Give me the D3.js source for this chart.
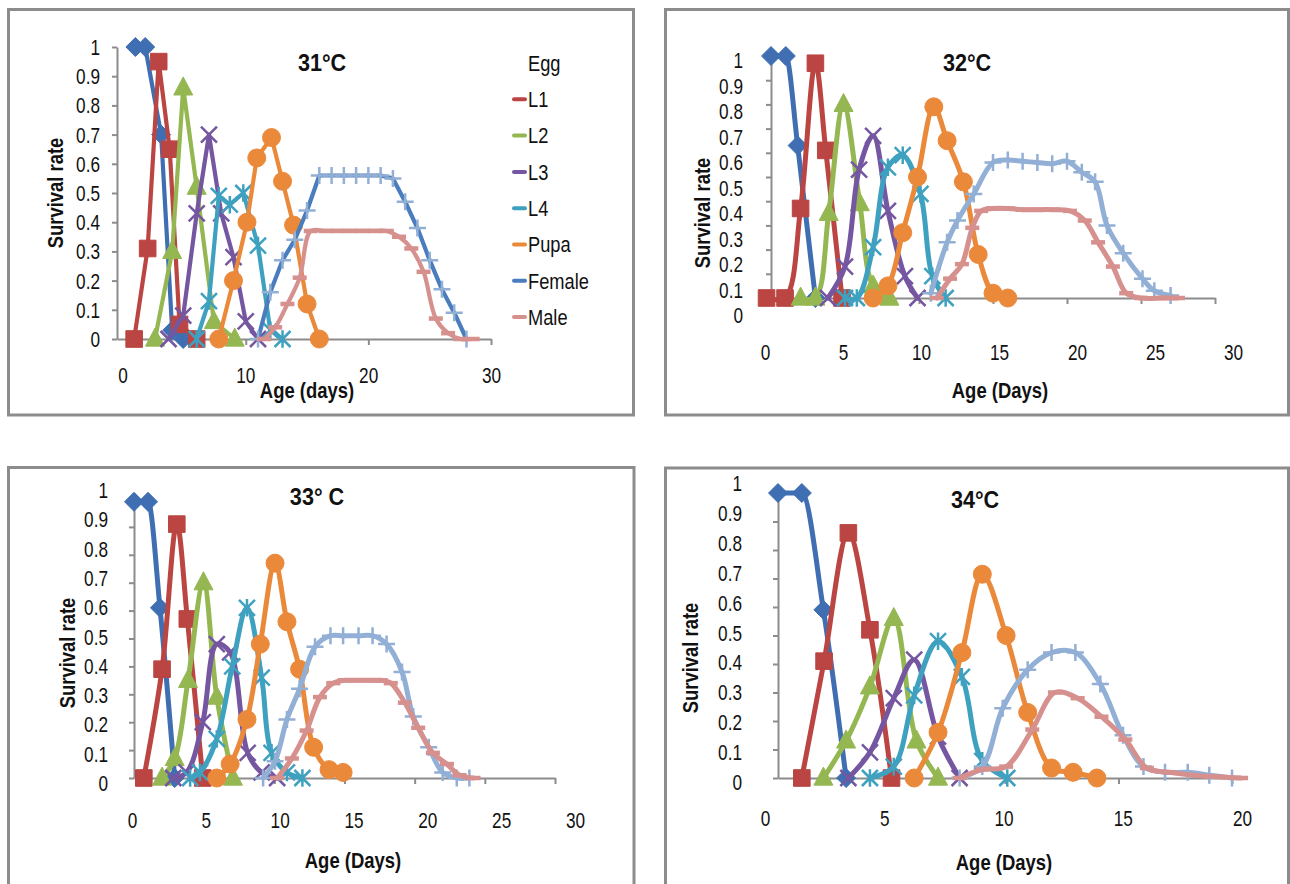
<!DOCTYPE html>
<html>
<head>
<meta charset="utf-8">
<script src="https://cdn.jsdelivr.net/npm/d3@7"></script>
<style>
  html, body { margin: 0; padding: 0; background: #ffffff; }
  svg { display: block; }
  text { font-family: "Liberation Sans", Arial, Helvetica, sans-serif; fill: #111111; }
</style>
</head>
<body>
<svg id="chart" width="1290" height="884"></svg>
<script>
// ---- Survival rate by age (days), one panel per rearing temperature ----
// Each point is [age in days, survival rate].

// 31 °C
const egg31 = [[1,1],[1.8,1],[3.1,0.7],[4,0.03],[4.9,0]];
const l1_31 = [[0.9,0],[2,0.31],[2.9,0.95],[3.8,0.65],[4.6,0.05],[6,0]];
const l2_31 = [[2.6,0],[4,0.3],[4.9,0.86],[6,0.52],[7.4,0.06],[9.1,0]];
const l3_31 = [[3.7,0],[4.9,0.08],[6,0.43],[7,0.7],[8,0.43],[9,0.28],[10,0.06],[11,0]];
const l4_31 = [[6,0],[7,0.13],[7.8,0.49],[8.7,0.46],[9.8,0.5],[11,0.32],[12,0.03],[13,0]];
const pupa31 = [[7.8,0],[9,0.2],[10.1,0.4],[10.9,0.62],[12.1,0.69],[13,0.54],[13.9,0.39],[15,0.12],[16,0]];
const female31 = [[11,0],[12,0.16],[13,0.27],[14,0.34],[15,0.44],[16,0.56],[17,0.56],[18,0.56],[19,0.56],[20,0.56],[21,0.56],[22,0.55],[23,0.47],[24,0.38],[25,0.27],[26,0.17],[27,0.09],[28,0]];
const male31 = [[11.5,0],[12.4,0.04],[13.4,0.12],[14.4,0.21],[15.3,0.37],[16.5,0.37],[17.5,0.37],[18.5,0.37],[19.5,0.37],[20.5,0.37],[21.5,0.37],[22.5,0.35],[23.5,0.31],[24.5,0.23],[25.5,0.07],[26.5,0.02],[27.5,0],[28.5,0]];

// 32 °C
const egg32 = [[0,1],[1,1],[1.8,0.63],[3,0]];
const l1_32 = [[-0.3,0],[0.95,0],[2,0.37],[3,0.97],[3.7,0.61],[4.8,0]];
const l2_32 = [[2,0],[3,0],[3.9,0.35],[4.9,0.8],[6,0.39],[6.9,0.05],[8,0]];
const l3_32 = [[3.85,0],[5,0.13],[5.95,0.53],[6.9,0.67],[7.9,0.36],[9.05,0.09],[9.9,0]];
const l4_32 = [[5,0],[5.8,0],[6.9,0.21],[7.9,0.54],[8.9,0.59],[10.1,0.43],[10.9,0.09],[11.8,0]];
const pupa32 = [[6.9,0],[7.9,0.05],[8.9,0.27],[9.9,0.5],[11,0.79],[11.9,0.65],[13,0.48],[14,0.18],[15,0.02],[16,0]];
const female32 = [[10.8,0.02],[11.9,0.23],[12.6,0.32],[13.7,0.43],[15,0.56],[16,0.57],[17,0.565],[18,0.56],[19,0.555],[20,0.565],[21,0.52],[21.9,0.48],[22.7,0.3],[23.8,0.185],[25.1,0.08],[25.9,0.03],[27,0.01]];
const male32 = [[11.2,0],[12.1,0.08],[12.9,0.14],[13.6,0.29],[14.2,0.36],[15,0.37],[16,0.37],[17,0.365],[18,0.365],[19,0.365],[20.2,0.36],[21.2,0.32],[22.1,0.23],[23.1,0.13],[24,0.02],[25,0],[26.5,0],[27.5,0]];

// 33 °C
const egg33 = [[0,0.99],[1,0.99],[1.85,0.61],[2.9,0]];
const l1_33 = [[0.7,0],[2,0.39],[3.05,0.91],[3.8,0.57],[4.9,0]];
const l2_33 = [[2,0],[2.9,0.07],[3.85,0.35],[4.95,0.7],[5.9,0.29],[7.05,0]];
const l3_33 = [[2.8,0],[3.75,0.02],[4.9,0.2],[5.9,0.48],[6.85,0.45],[8.1,0.09],[9.1,0.02],[10.2,0]];
const l4_33 = [[4,0],[4.7,0.02],[5.9,0.14],[7,0.4],[8.05,0.61],[9.1,0.36],[9.8,0.09],[10.9,0.02],[12,0]];
const pupa33 = [[5.9,0],[6.85,0.05],[8.05,0.21],[9,0.48],[10.05,0.77],[10.9,0.56],[11.8,0.39],[12.8,0.11],[13.9,0.03],[14.9,0.02]];
const female33 = [[9.2,0],[10.05,0.06],[10.9,0.21],[11.8,0.32],[12.9,0.47],[14,0.51],[14.9,0.51],[16,0.51],[17,0.51],[18,0.48],[19.1,0.38],[19.9,0.22],[21,0.11],[22,0.02],[23,0],[23.9,0]];
const male33 = [[10.2,0],[11.25,0.07],[12.3,0.17],[13.25,0.29],[14.2,0.34],[15,0.35],[16,0.35],[17,0.35],[17.6,0.35],[18.3,0.34],[19.3,0.27],[20.25,0.18],[21.3,0.09],[22.3,0.05],[23.2,0.01],[24.2,0]];

// 34 °C
const egg34 = [[0,1],[1.05,1],[2,0.59],[3,0]];
const l1_34 = [[1.05,0],[2.03,0.41],[3.1,0.86],[4.05,0.52],[5,0]];
const l2_34 = [[2,0],[3,0.13],[4.05,0.32],[5.1,0.56],[6.1,0.13],[7.05,0]];
const l3_34 = [[3.1,0],[4.05,0.09],[5.1,0.28],[6,0.415],[7.05,0.145],[8,0]];
const l4_34 = [[4.05,0],[5.1,0.04],[6,0.29],[7.05,0.48],[8.1,0.355],[9,0.06],[10.1,0]];
const pupa34 = [[6,0],[7.05,0.16],[8.1,0.44],[9,0.715],[10.05,0.5],[11,0.23],[12.05,0.035],[13,0.02],[14.05,0]];
const female34 = [[8,0],[9,0.04],[9.9,0.245],[11,0.38],[12.05,0.44],[13.1,0.44],[14.2,0.33],[15.2,0.15],[16.1,0.04],[17.05,0.02],[18.05,0.02],[19,0.01],[20,0]];
const male34 = [[8,0],[9,0.03],[10.05,0.04],[11.2,0.17],[12.2,0.3],[13.2,0.28],[14.25,0.215],[15.3,0.135],[16.25,0.035],[17.25,0.02],[18.3,0.01],[19.2,0.005],[20.4,0]];

// Series names and axis ticks
const seriesNames = ["Egg", "L1", "L2", "L3", "L4", "Pupa", "Female", "Male"];
const yTickValues = [0, 0.1, 0.2, 0.3, 0.4, 0.5, 0.6, 0.7, 0.8, 0.9, 1];
const yTickLabels = ["0", "0.1", "0.2", "0.3", "0.4", "0.5", "0.6", "0.7", "0.8", "0.9", "1"];
const xTicks30 = [0, 5, 10, 15, 20, 25, 30];
const xTicks31 = [0, 10, 20, 30];
const xTicks20 = [0, 5, 10, 15, 20];

// ---- Styles ----
const seriesStyle = [
  { color: "#3f6fb2", marker: "diamond" },
  { color: "#ba4542", marker: "square" },
  { color: "#94b752", marker: "triangle" },
  { color: "#7556a0", marker: "x" },
  { color: "#3fa1c0", marker: "star" },
  { color: "#eb893b", marker: "circle" },
  { color: "#92afd6", marker: "plus" },
  { color: "#d6908e", marker: "dash" }
];
const axisGrey = "#8c8c8c";
const tickFont = { size: 21.5, sx: 0.8 };

// curve types: "L" straight segments, "M" monotone smoothing, "C" Catmull-Rom smoothing
const curveOf = { L: d3.curveLinear, M: d3.curveMonotoneX, C: d3.curveCatmullRom.alpha(0.5) };

// ---- Panel layout ----
const panels = [
  {
    title: "31°C", xTitle: "Age (days)",
    series: [egg31, l1_31, l2_31, l3_31, l4_31, pupa31, female31, male31],
    frame: [8.5, 9.5, 633.5, 415],
    xDomain: [-0.5, 30], xRange: [117, 491],
    xLabelDomain: [0, 30], xLabelRange: [122.5, 491], xLabelY: 375,
    xTickMarks: [10, 20, 30], xTickLabels: xTicks31,
    yRange: [339, 47], yLabelRange: [339, 47], yLabelRight: 100,
    titlePos: [322, 63], xTitlePos: [307, 390], yTitlePos: [55, 193],
    lineWidth: 4.2, femaleLine: "#4a7dbe",
    curves: ["L", "L", "L", "L", "L", "L", "L", "C"],
    legend: true
  },
  {
    title: "32°C", xTitle: "Age (Days)",
    series: [egg32, l1_32, l2_32, l3_32, l4_32, pupa32, female32, male32],
    frame: [665.5, 9.5, 1288.5, 415],
    xDomain: [0, 30], xRange: [771, 1215],
    xLabelDomain: [0, 30], xLabelRange: [765, 1233], xLabelY: 352,
    xTickMarks: [5, 10, 15, 20, 25, 30], xTickLabels: xTicks30,
    yRange: [298, 56], yLabelRange: [315, 60], yLabelRight: 743,
    titlePos: [967, 63], xTitlePos: [1000, 390], yTitlePos: [702, 213],
    lineWidth: 5, femaleLine: "#92afd6",
    curves: ["M", "C", "C", "C", "C", "C", "C", "C"],
    legend: false
  },
  {
    title: "33° C", xTitle: "Age (Days)",
    series: [egg33, l1_33, l2_33, l3_33, l4_33, pupa33, female33, male33],
    frame: [8.5, 467.5, 634, 900],
    xDomain: [0, 30], xRange: [134, 555],
    xLabelDomain: [0, 30], xLabelRange: [132, 575], xLabelY: 820,
    xTickMarks: [5, 10, 15, 20, 25, 30], xTickLabels: xTicks30,
    yRange: [778, 499], yLabelRange: [783, 490], yLabelRight: 108,
    titlePos: [317, 497], xTitlePos: [353, 860], yTitlePos: [67, 653],
    lineWidth: 5, femaleLine: "#92afd6",
    curves: ["M", "C", "C", "C", "C", "C", "C", "C"],
    legend: false
  },
  {
    title: "34°C", xTitle: "Age (Days)",
    series: [egg34, l1_34, l2_34, l3_34, l4_34, pupa34, female34, male34],
    frame: [665.5, 468, 1288.5, 900],
    xDomain: [0, 20], xRange: [778, 1232],
    xLabelDomain: [0, 20], xLabelRange: [765, 1242], xLabelY: 818,
    xTickMarks: [5, 10, 15, 20], xTickLabels: xTicks20,
    yRange: [778, 493], yLabelRange: [782, 483], yLabelRight: 742,
    titlePos: [975, 500], xTitlePos: [1004, 862], yTitlePos: [690, 658],
    lineWidth: 5, femaleLine: "#92afd6",
    curves: ["M", "C", "C", "C", "C", "C", "C", "C"],
    legend: false
  }
];

const legendLayout = { swatchX1: 514, swatchX2: 525, textX: 528, y0: 63, step: 36.3 };

// ---- Marker shapes (centred on the data point) ----
const markerSize = { diamond: 9.5, square: 8.3, triangle: 9.5, circle: 9, x: 8, star: 8, plus: 8.5, dash: 7 };
function markerPath(type) {
  const s = markerSize[type];
  switch (type) {
    case "diamond": return `M0,${-s}L${s},0L0,${s}L${-s},0Z`;
    case "square": return `M${-s},${-s}H${s}V${s}H${-s}Z`;
    case "triangle": return `M0,${-s * 1.15}L${s},${s * 0.75}L${-s},${s * 0.75}Z`;
    case "circle": return `M${s},0A${s},${s} 0 1,1 ${-s},0A${s},${s} 0 1,1 ${s},0Z`;
    case "x": return `M${-s},${-s}L${s},${s}M${-s},${s}L${s},${-s}`;
    case "star": return `M${-s},${-s}L${s},${s}M${-s},${s}L${s},${-s}M0,${-s * 1.1}L0,${s * 1.1}`;
    case "plus": return `M${-s},0H${s}M0,${-s}V${s}`;
    case "dash": return `M${-s},0H${s}`;
  }
}
const filledMarkers = new Set(["diamond", "square", "triangle", "circle"]);

const svg = d3.select("#chart");

// text helper: horizontally condensed text placed at (x, y)
function squeezedText(g, str, x, y, opts) {
  return g.append("text")
    .attr("transform", `translate(${x},${y})${opts.rotate ? " rotate(-90)" : ""} scale(${opts.sx},1)`)
    .attr("text-anchor", opts.anchor || "middle")
    .attr("dy", "0.35em")
    .style("font-size", opts.size + "px")
    .style("font-weight", opts.bold ? "bold" : "normal")
    .text(str);
}

panels.forEach(p => {
  const g = svg.append("g");

  // panel frame
  g.append("rect")
    .attr("x", p.frame[0]).attr("y", p.frame[1])
    .attr("width", p.frame[2] - p.frame[0]).attr("height", p.frame[3] - p.frame[1])
    .attr("fill", "none").attr("stroke", axisGrey).attr("stroke-width", 3);

  const x = d3.scaleLinear().domain(p.xDomain).range(p.xRange);
  const y = d3.scaleLinear().domain([0, 1]).range(p.yRange);
  const xLab = d3.scaleLinear().domain(p.xLabelDomain).range(p.xLabelRange);
  const yLab = d3.scaleLinear().domain([0, 1]).range(p.yLabelRange);

  // axis lines and tick marks
  g.append("g")
    .attr("transform", `translate(${p.xRange[0]},0)`)
    .call(d3.axisLeft(y).tickValues(yTickValues).tickSize(5).tickSizeOuter(0).tickFormat(""))
    .call(s => s.selectAll("path,line").attr("stroke", axisGrey).attr("stroke-width", 2));
  g.append("g")
    .attr("transform", `translate(0,${y(0)})`)
    .call(d3.axisBottom(x).tickValues(p.xTickMarks).tickSize(6).tickSizeOuter(0).tickFormat(""))
    .call(s => s.selectAll("path,line").attr("stroke", axisGrey).attr("stroke-width", 2));

  // tick labels
  g.append("g")
    .attr("transform", `translate(${p.yLabelRight},0)`)
    .call(d3.axisLeft(yLab).tickValues(yTickValues).tickSize(0).tickPadding(0)
      .tickFormat((d, i) => yTickLabels[i]))
    .call(s => s.select(".domain").remove())
    .call(s => s.selectAll("text")
      .attr("x", 0).attr("dy", "0.35em")
      .attr("transform", `scale(${tickFont.sx},1)`)
      .style("font-size", tickFont.size + "px").attr("fill", "#111"));
  g.append("g")
    .attr("transform", `translate(0,${p.xLabelY})`)
    .call(d3.axisBottom(xLab).tickValues(p.xTickLabels).tickSize(0).tickPadding(0)
      .tickFormat(d3.format("d")))
    .call(s => s.select(".domain").remove())
    .call(s => s.selectAll("text")
      .attr("y", 0).attr("dy", "0.35em")
      .attr("transform", `scale(${tickFont.sx},1)`)
      .style("font-size", tickFont.size + "px").attr("fill", "#111"));

  // titles
  squeezedText(g, p.title, p.titlePos[0], p.titlePos[1], { sx: 0.9, size: 24, bold: true });
  squeezedText(g, p.xTitle, p.xTitlePos[0], p.xTitlePos[1], { sx: 0.84, size: 22, bold: true });
  squeezedText(g, "Survival rate", p.yTitlePos[0], p.yTitlePos[1], { sx: 0.82, size: 22.5, bold: true, rotate: true });

  // series: line then markers, in series order
  p.series.forEach((data, i) => {
    const st = seriesStyle[i];
    const lineColor = i === 6 ? p.femaleLine : st.color;
    const line = d3.line()
      .x(d => x(d[0])).y(d => y(d[1]))
      .curve(curveOf[p.curves[i]]);
    const sg = g.append("g").attr("class", "series-" + seriesNames[i]);
    sg.append("path")
      .datum(data)
      .attr("d", line)
      .attr("fill", "none")
      .attr("stroke", lineColor)
      .attr("stroke-width", p.lineWidth)
      .attr("stroke-linejoin", "round")
      .attr("stroke-linecap", "round");
    const filled = filledMarkers.has(st.marker);
    sg.selectAll("path.mk")
      .data(data)
      .join("path")
      .attr("class", "mk")
      .attr("transform", d => `translate(${x(d[0])},${y(d[1])})`)
      .attr("d", markerPath(st.marker))
      .attr("fill", filled ? st.color : "none")
      .attr("stroke", st.color)
      .attr("stroke-width", filled ? 1 : (st.marker === "dash" ? 4.5 : 2.5));
  });

  // legend
  if (p.legend) {
    const lg = g.append("g");
    seriesNames.forEach((name, i) => {
      const yy = legendLayout.y0 + i * legendLayout.step;
      if (i > 0) {
        lg.append("line")
          .attr("x1", legendLayout.swatchX1).attr("x2", legendLayout.swatchX2)
          .attr("y1", yy).attr("y2", yy)
          .attr("stroke", i === 6 ? p.femaleLine : seriesStyle[i].color)
          .attr("stroke-width", 4).attr("stroke-linecap", "round");
      }
      squeezedText(lg, name, legendLayout.textX, yy, { sx: 0.83, size: 22, anchor: "start" });
    });
  }
});
</script>
</body>
</html>
